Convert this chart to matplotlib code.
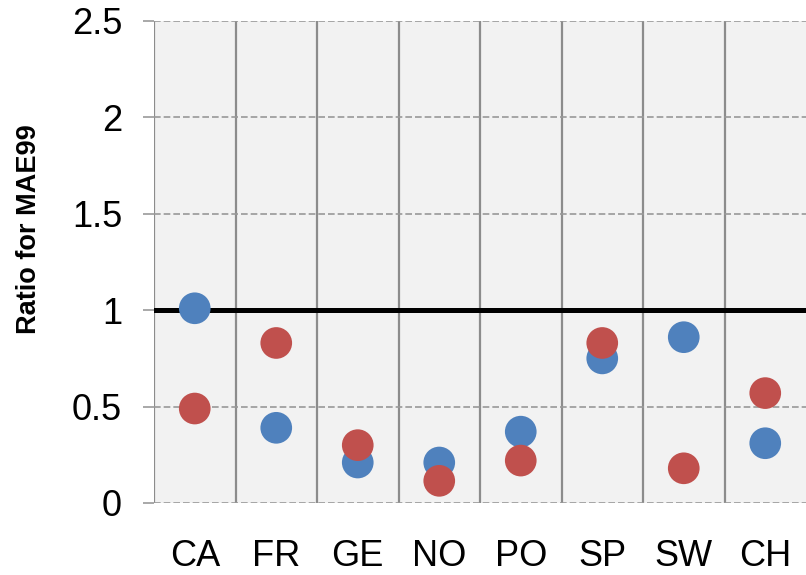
import matplotlib
matplotlib.use("Agg")
import matplotlib.pyplot as plt
import numpy as np

plt.rcParams['font.family'] = ['Liberation Sans', 'DejaVu Sans']

countries = ["CA", "FR", "GE", "NO", "PO", "SP", "SW", "CH"]
blue_vals = [1.01, 0.39, 0.21, 0.21, 0.37, 0.75, 0.86, 0.31]
red_vals = [0.49, 0.83, 0.30, 0.115, 0.22, 0.83, 0.18, 0.57]
y_ticks = [0, 0.5, 1, 1.5, 2, 2.5]
y_ticklabels = ["0", "0.5", "1", "1.5", "2", "2.5"]

fig = plt.figure(figsize=(8.06, 5.75), dpi=100)
ax = fig.add_axes([154 / 806, 1 - 503 / 575, 1 - 154 / 806, (503 - 21) / 575])
ax.set_facecolor("#F2F2F2")

x = np.arange(len(countries))
ax.set_xlim(-0.5, len(countries) - 0.5)
ax.set_ylim(0, 2.5)

# category separators
for b in np.arange(-0.5, len(countries) - 1, 1.0):
    ax.axvline(b, color="#8C8C8C", lw=1.6, zorder=1)

# dashed horizontal grid
for t in y_ticks:
    ax.axhline(t, color="#999999", lw=1.2, ls=(0, (4, 1.8)), zorder=1)

# reference line at ratio 1
ax.axhline(1, color="black", lw=3.6, zorder=2)

ax.scatter(x, blue_vals, s=520, color="#4F81BD", edgecolors="none", zorder=3)
ax.scatter(x, red_vals, s=520, color="#C0504D", edgecolors="none", zorder=4)

for sp in ax.spines.values():
    sp.set_visible(False)

ax.set_yticks(y_ticks)
ax.set_yticklabels(y_ticklabels, fontsize=26)
ax.tick_params(axis="y", length=8, width=1.2, color="#999999", pad=15)
ax.set_xticks(x)
ax.set_xticklabels(countries, fontsize=26)
ax.tick_params(axis="x", length=0, pad=26)

fig.text(29 / 806, 1 - 229 / 575, "Ratio for MAE99", rotation=90,
         ha="center", va="center", fontsize=19.5, fontweight="bold")

fig.savefig("out.png", dpi=100)
